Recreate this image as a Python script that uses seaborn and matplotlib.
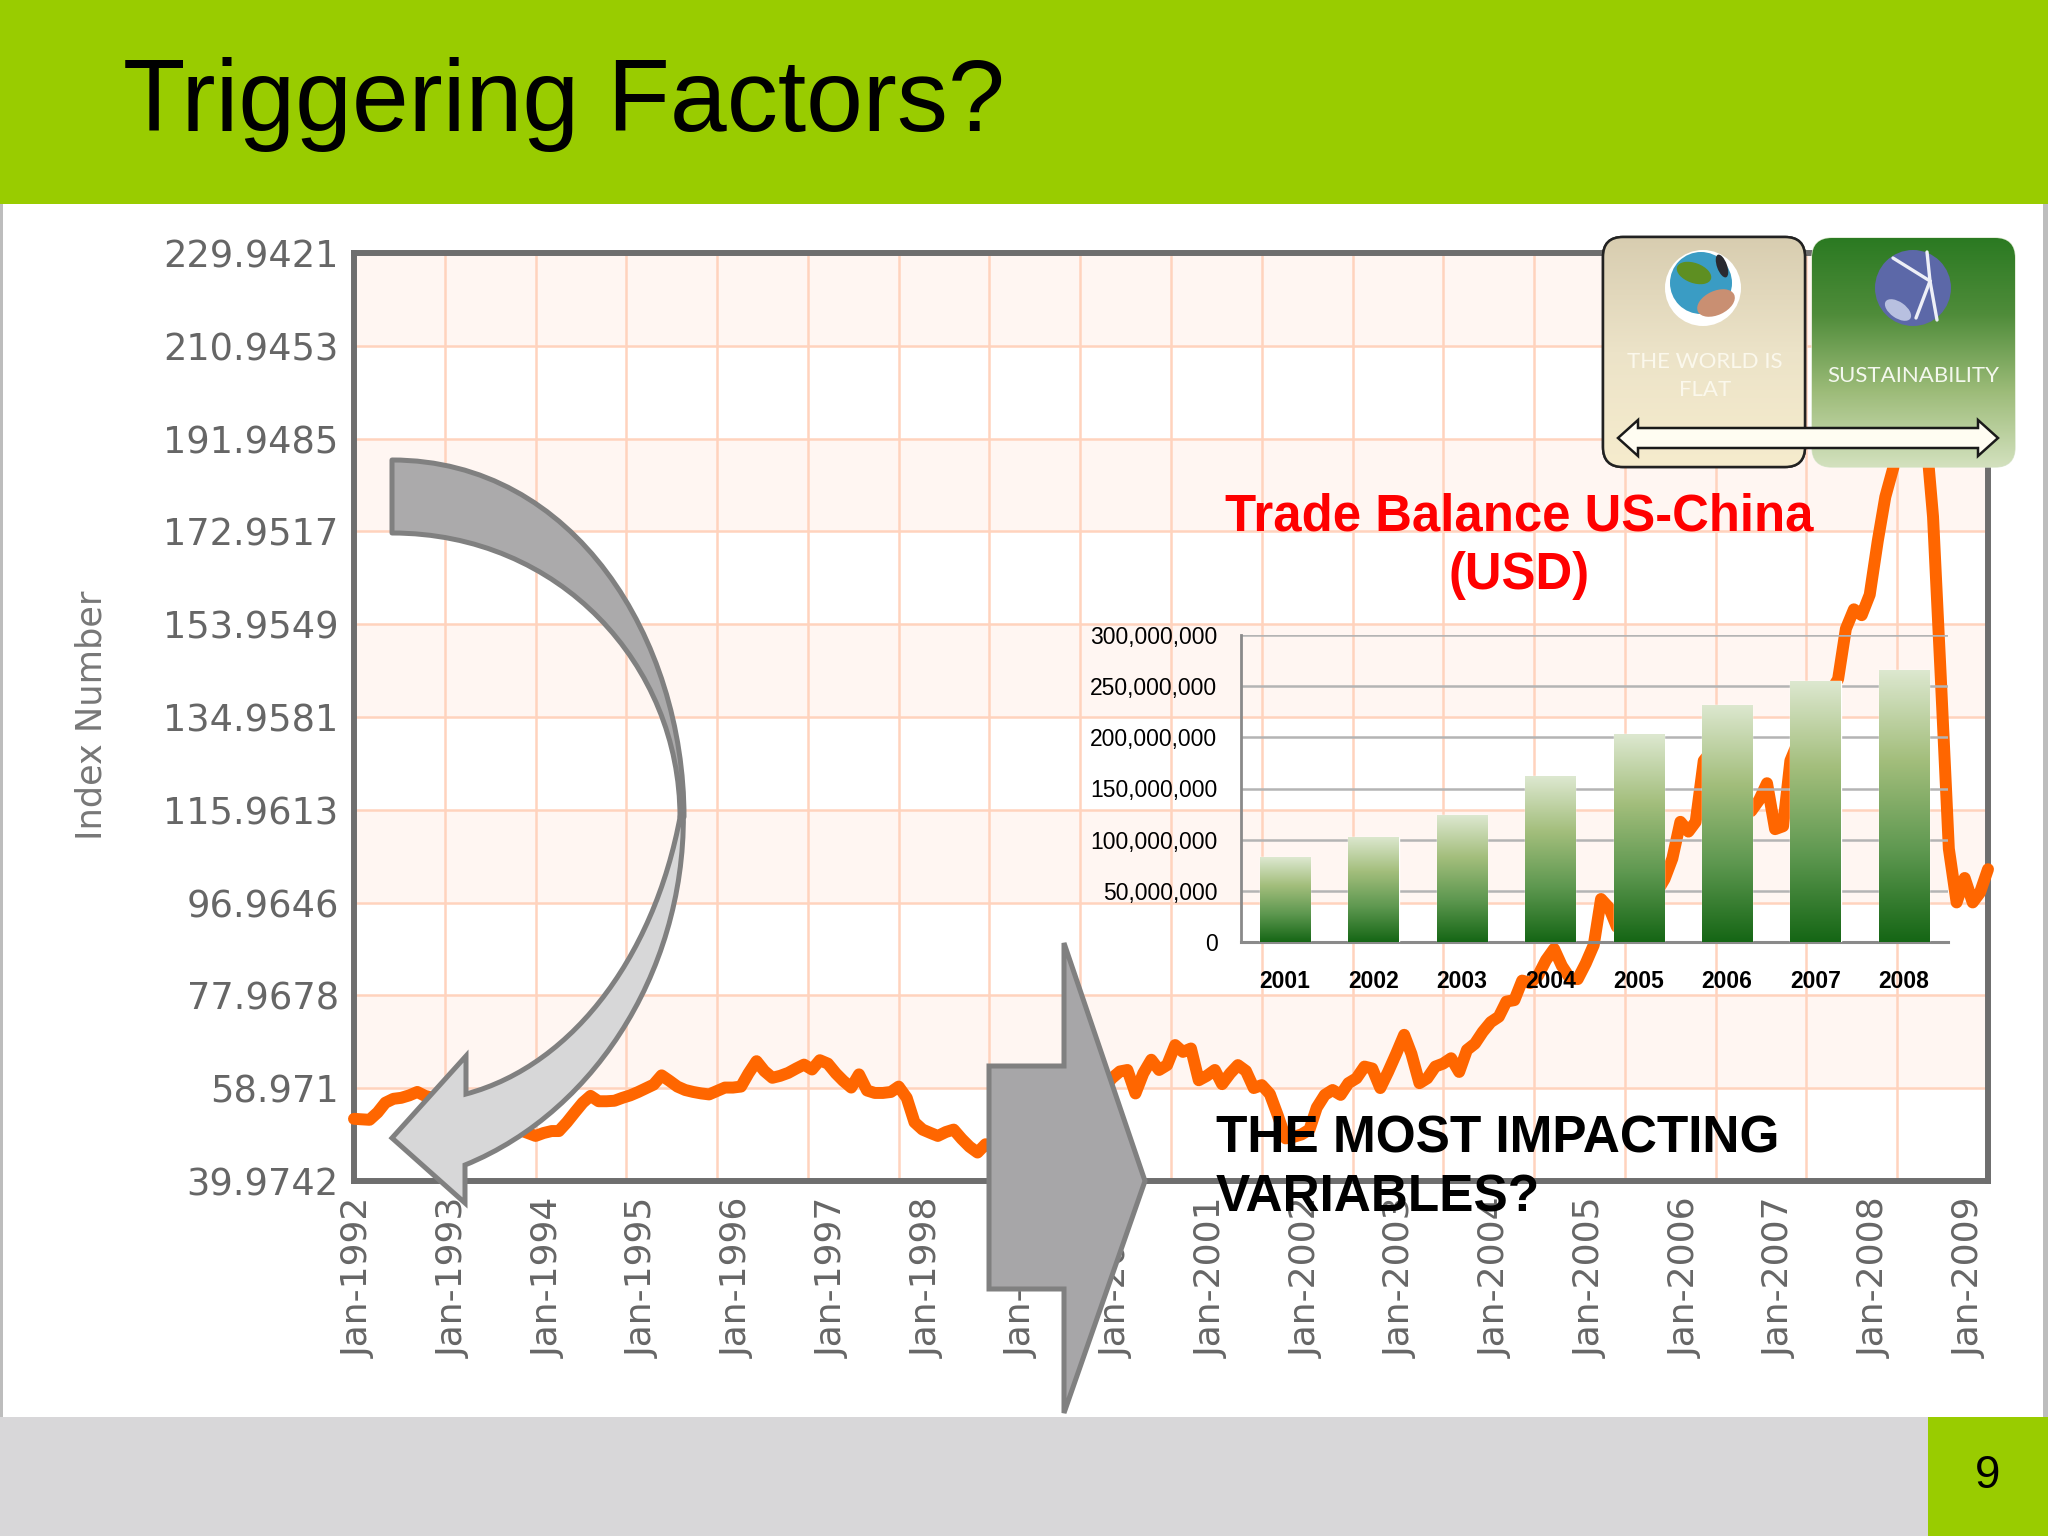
#load the required modules
import numpy as np
import pandas as pd
import seaborn as sns
import matplotlib
matplotlib.use("Agg")
import matplotlib.pyplot as plt
import matplotlib.dates as mdates
from matplotlib.colors import LinearSegmentedColormap
from matplotlib.patches import Rectangle, Polygon, Circle, Ellipse, FancyBboxPatch, PathPatch
from matplotlib.path import Path
from matplotlib.transforms import ScaledTranslation

# monthly index values, the parts behind shapes are estimates
index_1992 = [52.7, 52.6, 52.5, 54, 56, 56.8, 57, 57.5, 58.2, 57.4, 57, 56.4]
index_1993 = [55.8, 55.2, 54.6, 54, 53.4, 52.8, 52.2, 51.6, 51, 50.4, 49.8, 49.2]
index_1994 = [49.8, 50.2, 50.2, 52, 54, 56, 57.4, 56.3, 56.3, 56.4, 57, 57.5]
index_1995 = [58.2, 59, 59.7, 61.6, 60.5, 59.3, 58.6, 58.2, 57.9, 57.7, 58.4, 59.1]
index_1996 = [59.1, 59.3, 62, 64.5, 62.5, 61.1, 61.5, 62.1, 63, 63.8, 62.8, 64.7]
index_1997 = [64, 62, 60.5, 59.1, 61.8, 58.5, 58, 58, 58.2, 59.3, 57, 52]
index_1998 = [50.5, 49.8, 49.2, 50, 50.5, 48.6, 47, 45.8, 47.5, 46.5, 46.5, 47]
index_1999 = [47.5, 48.5, 49.5, 50, 51, 52, 53, 54, 55, 56, 57.5, 59]
index_2000 = [61, 62.4, 62.7, 57.9, 62, 64.8, 62.7, 63.7, 67.8, 66.4, 67.1, 60.6]
index_2001 = [61.5, 62.7, 59.8, 62, 63.7, 62.5, 59, 59.6, 57.8, 53.5, 48.7, 49]
index_2002 = [49.5, 50.5, 55, 57.6, 58.6, 57.6, 60, 61, 63.4, 63, 59, 62.3]
index_2003 = [66, 69.9, 66, 60, 61, 63.4, 64, 65.1, 62.3, 66.8, 68.1, 70.5]
index_2004 = [72.5, 73.6, 76.7, 77, 81, 80.5, 82, 85.2, 87.5, 84, 81.5, 81.3]
index_2005 = [84.5, 88.3, 97.7, 95.9, 92, 92, 93, 95, 97, 99, 101.8, 106]
index_2006 = [113.5, 111.5, 113.5, 126, 128, 130, 128, 122, 118, 115.7, 118, 121.4]
index_2007 = [112, 112.6, 126, 130, 132, 134, 137, 140, 142.7, 153, 157, 155.8]
index_2008 = [160, 171, 180, 186, 196, 205, 212, 195, 176, 143, 108, 97]
index_2009 = [102, 97, 99, 103.8]

y_labels = ["229.9421", "210.9453", "191.9485", "172.9517", "153.9549",
            "134.9581", "115.9613", "96.9646", "77.9678", "58.971", "39.9742"]
x_years = list(range(1992, 2010))

# trade balance inset
trade_years = ["2001", "2002", "2003", "2004", "2005", "2006", "2007", "2008"]
trade_usd = [83e6, 103e6, 124e6, 162e6, 203e6, 232e6, 255.5e6, 266e6]
trade_ticks = [0, 50e6, 100e6, 150e6, 200e6, 250e6, 300e6]

index_values = (index_1992 + index_1993 + index_1994 + index_1995 + index_1996 + index_1997
                + index_1998 + index_1999 + index_2000 + index_2001 + index_2002 + index_2003
                + index_2004 + index_2005 + index_2006 + index_2007 + index_2008 + index_2009)
index_df = pd.DataFrame({"month": pd.date_range("1992-01-01", periods=len(index_values), freq="MS"),
                         "index": index_values})
trade_df = pd.DataFrame({"year": trade_years, "usd": trade_usd})

W, H = 2048, 1536
sns.set_theme(style="white")
plt.rcParams["font.family"] = ["Liberation Sans", "DejaVu Sans"]

fig = plt.figure(figsize=(W / 100, H / 100), dpi=100, facecolor="white")


def px_axes(left, top, right, bottom, zorder):
    # axes placed by pixel box of the slide
    return fig.add_axes([left / W, 1 - bottom / H, (right - left) / W, (bottom - top) / H], zorder=zorder)


def gradient(ax, box, colors, clip):
    # vertical gradient from top to bottom, clipped to a patch
    cmap = LinearSegmentedColormap.from_list("g", colors)
    img = ax.imshow(np.linspace(0, 1, 256).reshape(-1, 1), cmap=cmap, extent=box, aspect="auto",
                    interpolation="bilinear", zorder=clip.get_zorder() + 0.1)
    img.set_clip_path(clip)


# slide background
bg = px_axes(0, 0, W, H, 0)
bg.set_xlim(0, W)
bg.set_ylim(H, 0)
bg.axis("off")
bg.add_patch(Rectangle((0, 0), W, 204, color="#99CC00", lw=0))
bg.add_patch(Rectangle((0, 1417), W, 119, color="#D8D7D9", lw=0))
bg.add_patch(Rectangle((1928, 1417), 120, 119, color="#99CC00", lw=0))
bg.add_patch(Rectangle((0, 204), 3, 1213, color="#BDBDBD", lw=0))
bg.add_patch(Rectangle((2043, 204), 5, 1213, color="#BDBDBD", lw=0))
bg.text(123, 105, "Triggering Factors?", fontsize=73.5, color="black", va="center", ha="left")
bg.text(1988, 1476, "9", fontsize=33, color="black", va="center", ha="center")
bg.text(91, 715, "Index Number", fontsize=25.3, family="DejaVu Sans", color="#777777",
        rotation=90, va="center", ha="center")

# main index chart
ax = px_axes(354, 253, 1988, 1181, 1)
ax.set_facecolor("white")
y_ticks = [float(v) for v in y_labels]
for band_top, band_low in zip(y_ticks[0::2], y_ticks[1::2]):
    ax.axhspan(band_low, band_top, color="#FFF6F2", lw=0, zorder=0)

sns.lineplot(data=index_df, x="month", y="index", color="#FF6600", linewidth=8.6, errorbar=None, ax=ax, zorder=5)
ax.lines[0].set_clip_on(False)

x_start = mdates.date2num(pd.Timestamp("1992-01-01"))
x_end = mdates.date2num(pd.Timestamp("2009-04-01"))
ax.set_xlim(x_start, x_end)
ax.set_ylim(y_ticks[-1], y_ticks[0])
ax.set_xlabel("")
ax.set_ylabel("")
ax.set_yticks(y_ticks)
ax.set_yticklabels(y_labels, family="DejaVu Sans", fontsize=26.5, color="#666666")
ax.set_xticks([mdates.date2num(pd.Timestamp(year=y, month=1, day=1)) for y in x_years])
ax.set_xticklabels([f"Jan-{y}" for y in x_years], rotation=90, family="DejaVu Sans", fontsize=26, color="#666666")
# the vertical rules split the plot in 18 equal parts, they do not follow the labels
ax.set_xticks(np.linspace(x_start, x_end, 19), minor=True)
ax.tick_params(axis="both", which="both", length=0)
ax.tick_params(axis="y", pad=11)
ax.tick_params(axis="x", pad=12)
# the rotated labels sit a little right of their tick in the original
# has to come after tick_params, that call resets the label transform
shift = ScaledTranslation(5 / 100, 0, fig.dpi_scale_trans)
for lab in ax.get_xticklabels():
    lab.set_transform(lab.get_transform() + shift)
ax.grid(False)
ax.grid(True, axis="y", which="major", color="#FFD3BD", lw=1.8, zorder=1)
ax.grid(True, axis="x", which="minor", color="#FFD3BD", lw=1.8, zorder=1)
ax.set_axisbelow(True)
for side in ax.spines:
    ax.spines[side].set_color("#6E6E6E")
    ax.spines[side].set_linewidth(4.3)

# trade balance inset
inset = px_axes(1241, 635, 1948, 942, 2)
inset.patch.set_alpha(0)
sns.barplot(data=trade_df, x="year", y="usd", color="#156615", width=0.57, ax=inset, zorder=3)
inset.set_xlim(-0.5, 7.5)
inset.set_ylim(0, 300e6)
bar_colors = ["#DDE8D0", "#A3BE7C", "#5E9850", "#156615"]
for bar in list(inset.patches):
    gradient(inset, (bar.get_x(), bar.get_x() + bar.get_width(), 0, bar.get_height()), bar_colors, bar)
inset.set_xlim(-0.5, 7.5)
inset.set_ylim(0, 300e6)
inset.set_xlabel("")
inset.set_ylabel("")
inset.set_yticks(trade_ticks)
inset.set_yticklabels([f"{int(t):,}" for t in trade_ticks], fontsize=16.5, color="black")
inset.set_xticks(range(len(trade_years)))
inset.set_xticklabels(trade_years, fontsize=16.5, fontweight="bold", color="black")
inset.tick_params(axis="both", length=0)
inset.tick_params(axis="y", pad=17)
inset.tick_params(axis="x", pad=20)
inset.grid(True, axis="y", color="#B4B4B4", lw=1.8, zorder=1)
inset.set_axisbelow(True)
sns.despine(ax=inset, top=True, right=True)
inset.spines["left"].set_color("#8A8A8A")
inset.spines["bottom"].set_color("#8A8A8A")
inset.spines["left"].set_linewidth(2)
inset.spines["bottom"].set_linewidth(2.2)

# shapes drawn on top of the charts
top = px_axes(0, 0, W, H, 3)
top.patch.set_alpha(0)
top.axis("off")

card_l = FancyBboxPatch((1603, 237), 202, 230, boxstyle="round,pad=0,rounding_size=20",
                        fc="#E8DDBF", ec="#222222", lw=1.8, zorder=2)
card_r = FancyBboxPatch((1812, 238), 203, 229, boxstyle="round,pad=0,rounding_size=20",
                        fc="#9CBB78", ec="#D9E6CC", lw=1, zorder=2)
top.add_patch(card_l)
top.add_patch(card_r)
gradient(top, (1603, 1805, 467, 237), ["#D8CDB0", "#ECE3C8", "#F6ECCD"], card_l)
gradient(top, (1812, 2015, 467, 238), ["#2B7A22", "#4F8C3A", "#9CBB78", "#D3E1BE"], card_r)
top.add_patch(FancyBboxPatch((1603, 237), 202, 230, boxstyle="round,pad=0,rounding_size=20",
                             fc="none", ec="#222222", lw=1.8, zorder=3))

# small round pictures of the two cards
top.add_patch(Circle((1703, 288), 38, fc="white", ec="none", zorder=4))
top.add_patch(Circle((1701, 283), 31, fc="#3A9CC4", ec="none", zorder=4))
top.add_patch(Ellipse((1694, 273), 36, 20, angle=20, fc="#5E8F22", ec="none", zorder=4))
top.add_patch(Ellipse((1716, 303), 40, 24, angle=-25, fc="#C98F72", ec="none", zorder=4))
top.add_patch(Ellipse((1722, 266), 10, 24, angle=-20, fc="#2A2A30", ec="none", zorder=4))
top.add_patch(Circle((1913, 288), 38, fc="#5C68A8", ec="none", zorder=4))
top.add_patch(Ellipse((1898, 310), 30, 16, angle=35, fc="#B8C0E0", ec="none", zorder=4))
for x1, y1, x2, y2 in [(1930, 281, 1893, 258), (1930, 281, 1927, 252), (1930, 281, 1916, 318), (1930, 281, 1937, 320)]:
    top.plot([x1, x2], [y1, y2], color="#EDEFF7", lw=2.4, zorder=5, solid_capstyle="round")

card_font = ["Lato", "DejaVu Sans"]
top.text(1705, 362, "THE WORLD IS", fontsize=16, color="#FBF8EC", family=card_font, ha="center", va="center", zorder=6)
top.text(1705, 390, "FLAT", fontsize=16, color="#FBF8EC", family=card_font, ha="center", va="center", zorder=6)
top.text(1913, 376, "SUSTAINABILITY", fontsize=16, color="#F4F8EE", family=card_font, ha="center", va="center", zorder=6)

top.add_patch(Polygon([(1618, 438), (1638, 420), (1638, 428), (1978, 428), (1978, 420), (1998, 438),
                       (1978, 456), (1978, 448), (1638, 448), (1638, 456)],
                      closed=True, fc="#FFFDF2", ec="#1A1A1A", lw=1.8, zorder=7))

# curved arrow, dark upper half and light lower half
upper = Path([(392, 460), (575, 460), (684, 640), (684, 817), (680, 817), (680, 665), (560, 533), (392, 533), (392, 460)],
             [Path.MOVETO, Path.CURVE4, Path.CURVE4, Path.CURVE4, Path.LINETO, Path.CURVE4, Path.CURVE4, Path.CURVE4, Path.CLOSEPOLY])
lower = Path([(683, 800), (690, 960), (600, 1110), (465, 1165), (465, 1203), (392, 1138), (466, 1056), (466, 1094),
              (575, 1065), (660, 950), (683, 800), (683, 800)],
             [Path.MOVETO, Path.CURVE4, Path.CURVE4, Path.CURVE4, Path.LINETO, Path.LINETO, Path.LINETO, Path.LINETO,
              Path.CURVE4, Path.CURVE4, Path.CURVE4, Path.CLOSEPOLY])
top.add_patch(PathPatch(upper, fc="#ABAAAB", ec="#808080", lw=3.6, joinstyle="round", zorder=8))
top.add_patch(PathPatch(lower, fc="#D7D7D8", ec="#808080", lw=3.6, joinstyle="miter", zorder=8))

# block arrow to the right
top.add_patch(Polygon([(989, 1066), (1064, 1066), (1064, 943), (1145, 1181), (1064, 1413), (1064, 1289), (989, 1289)],
                      closed=True, fc="#A7A6A8", ec="#808080", lw=3.6, zorder=8))

top.text(1519, 517, "Trade Balance US-China", fontsize=36.6, fontweight="bold", color="#FF0000",
         ha="center", va="center", zorder=9)
top.text(1519, 576, "(USD)", fontsize=36.6, fontweight="bold", color="#FF0000", ha="center", va="center", zorder=9)
top.text(1216, 1139, "THE MOST IMPACTING", fontsize=37, fontweight="bold", color="black", ha="left", va="center", zorder=9)
top.text(1216, 1198, "VARIABLES?", fontsize=37, fontweight="bold", color="black", ha="left", va="center", zorder=9)
top.set_xlim(0, W)
top.set_ylim(H, 0)

fig.savefig("out.png", dpi=100)
